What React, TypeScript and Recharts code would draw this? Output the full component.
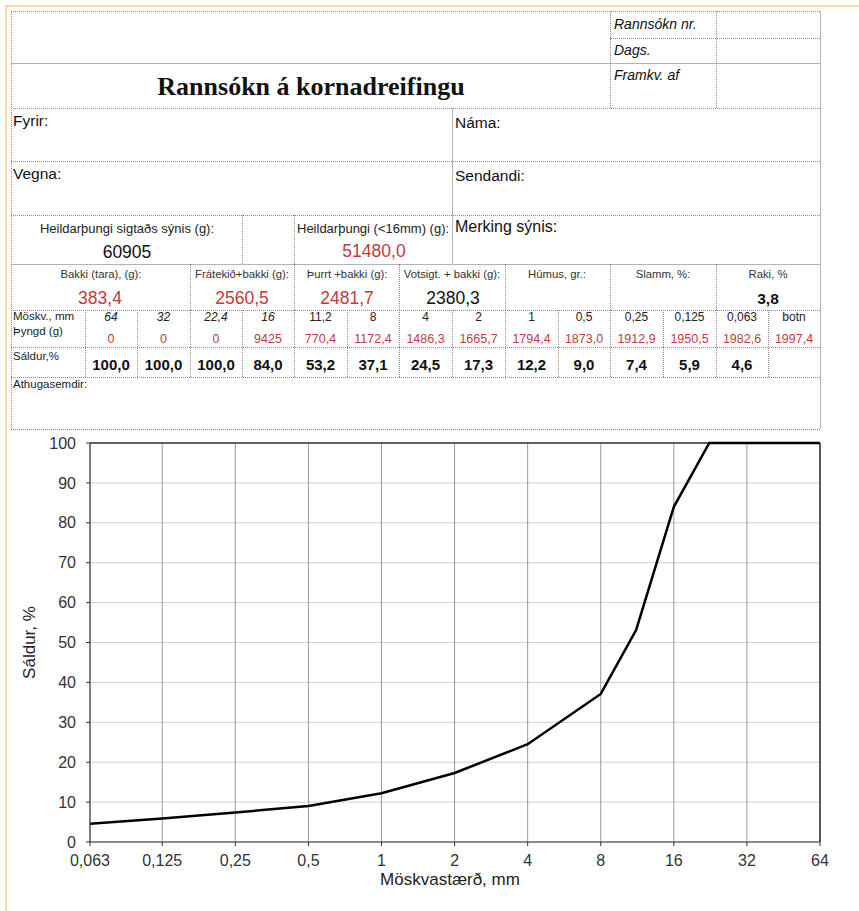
import React from "react";
import { CartesianGrid, Line, LineChart, ReferenceLine, XAxis, YAxis } from "recharts";

// sieve analysis (Sáldur, % passing each sieve)
const sieveSizes = [0.063, 0.125, 0.25, 0.5, 1, 2, 4, 8, 11.2, 16, 22.4, 32, 64];
const passingPct = [4.6, 5.9, 7.4, 9.0, 12.2, 17.3, 24.5, 37.1, 53.2, 84.0, 100, 100, 100];
const xTicks = [0.063, 0.125, 0.25, 0.5, 1, 2, 4, 8, 16, 32, 64];
const yTicks = [0, 10, 20, 30, 40, 50, 60, 70, 80, 90, 100];

// form table
const tableSizes = ["64", "32", "22,4", "16", "11,2", "8", "4", "2", "1", "0,5", "0,25", "0,125", "0,063", "botn"];
const tableWeights = ["0", "0", "0", "9425", "770,4", "1172,4", "1486,3", "1665,7", "1794,4", "1873,0", "1912,9", "1950,5", "1982,6", "1997,4"];
const italicSizes = ["64", "32", "22,4", "16"];

const SANS = '"Liberation Sans", Arial, Helvetica, sans-serif';
const SERIF = '"Liberation Serif", "Times New Roman", serif';
const RED = "#c23b3b";
const DOT = "#8a8a8a";
const SOLID = "#b4b4b4";

const colEdges = [85, 137, 190, 242, 294, 347, 399, 452, 505, 558, 610, 663, 716, 768, 820];

const chartData = sieveSizes.map((size, i) => ({ size, passing: passingPct[i] }));
const tablePassing = [...passingPct].reverse().map((v) => v.toFixed(1).replace(".", ","));

const fmt = (v: number) => String(v).replace(".", ",");

function H({ y, x1, x2, solid }: { y: number; x1: number; x2: number; solid?: boolean }) {
  return (
    <div
      style={{
        position: "absolute",
        left: x1,
        top: y,
        width: x2 - x1,
        height: 0,
        borderTop: solid ? `1px solid ${SOLID}` : `1px dotted ${DOT}`,
      }}
    />
  );
}

function V({ x, y1, y2, solid }: { x: number; y1: number; y2: number; solid?: boolean }) {
  return (
    <div
      style={{
        position: "absolute",
        left: x,
        top: y1,
        width: 0,
        height: y2 - y1,
        borderLeft: solid ? `1px solid ${SOLID}` : `1px dotted ${DOT}`,
      }}
    />
  );
}

// text placed by baseline; cx => centered, else left aligned at x
function T({
  x,
  cx,
  base,
  size,
  children,
  color = "#111",
  bold,
  italic,
  serif,
}: {
  x?: number;
  cx?: number;
  base: number;
  size: number;
  children: React.ReactNode;
  color?: string;
  bold?: boolean;
  italic?: boolean;
  serif?: boolean;
}) {
  const top = base - 0.85 * size;
  const pos = cx !== undefined ? { left: cx - 200, width: 400, textAlign: "center" as const } : { left: x };
  return (
    <div
      style={{
        position: "absolute",
        top,
        ...pos,
        fontSize: size,
        lineHeight: 1,
        whiteSpace: "nowrap",
        color,
        fontFamily: serif ? SERIF : SANS,
        fontWeight: bold ? 700 : 400,
        fontStyle: italic ? "italic" : "normal",
      }}
    >
      {children}
    </div>
  );
}

function FormTable() {
  const cells = tableSizes.map((s, i) => {
    const cx = (colEdges[i] + colEdges[i + 1]) / 2;
    return (
      <React.Fragment key={s}>
        <T cx={cx} base={321} size={12} italic={italicSizes.includes(s)} color="#222">
          {s}
        </T>
        <T cx={cx} base={344} size={12.5} color={RED}>
          {tableWeights[i]}
        </T>
        <T cx={cx} base={370} size={15} bold>
          {i < tablePassing.length ? tablePassing[i] : ""}
        </T>
      </React.Fragment>
    );
  });

  return (
    <>
      {/* grid lines */}
      <H y={11} x1={11} x2={820} />
      <H y={38} x1={610} x2={820} />
      <H y={63} x1={11} x2={820} solid />
      <H y={108} x1={11} x2={820} />
      <H y={161} x1={11} x2={820} />
      <H y={215} x1={11} x2={820} />
      <H y={264} x1={11} x2={820} solid />
      <H y={310} x1={11} x2={820} />
      <H y={347} x1={11} x2={820} />
      <H y={377} x1={11} x2={820} />
      <H y={429} x1={11} x2={820} />
      <V x={11} y1={11} y2={429} />
      <V x={820} y1={11} y2={429} solid />
      <V x={610} y1={11} y2={108} />
      <V x={716} y1={11} y2={108} />
      <V x={452} y1={108} y2={264} solid />
      <V x={242} y1={215} y2={264} />
      <V x={294} y1={215} y2={264} />
      {[190, 294, 399, 505, 610, 716].map((x) => (
        <V key={"r7" + x} x={x} y1={264} y2={310} />
      ))}
      {colEdges.slice(0, -1).map((x) => (
        <V key={"r8" + x} x={x} y1={310} y2={377} />
      ))}

      {/* header */}
      <T x={614} base={29} size={14} italic>Rannsókn nr.</T>
      <T x={614} base={55} size={14} italic>Dags.</T>
      <T x={614} base={80} size={14} italic>Framkv. af</T>
      <T cx={311} base={96} size={26} bold serif>Rannsókn á kornadreifingu</T>

      <T x={13} base={126} size={15.5}>Fyrir:</T>
      <T x={455} base={128} size={15.5}>Náma:</T>
      <T x={13} base={179} size={15.5}>Vegna:</T>
      <T x={455} base={181} size={15.5}>Sendandi:</T>

      <T cx={127} base={233} size={13} color="#222">Heildarþungi sigtaðs sýnis (g):</T>
      <T cx={127} base={259} size={17.5}>60905</T>
      <T x={297} base={233} size={13} color="#222">Heildarþungi (&lt;16mm) (g):</T>
      <T cx={374} base={258} size={17.5} color={RED}>51480,0</T>
      <T x={455} base={233} size={16}>Merking sýnis:</T>

      <T cx={101} base={279} size={11.3} color="#333">Bakki (tara), (g):</T>
      <T cx={100} base={305} size={17.5} color={RED}>383,4</T>
      <T cx={242} base={279} size={11.3} color="#333">Frátekið+bakki (g):</T>
      <T cx={242} base={305} size={17.5} color={RED}>2560,5</T>
      <T cx={347} base={279} size={11.3} color="#333">Þurrt +bakki (g):</T>
      <T cx={347} base={305} size={17.5} color={RED}>2481,7</T>
      <T cx={452} base={279} size={11.3} color="#333">Votsigt. + bakki (g):</T>
      <T cx={453} base={305} size={17.5}>2380,3</T>
      <T cx={557} base={279} size={11.3} color="#333">Húmus, gr.:</T>
      <T cx={663} base={279} size={11.3} color="#333">Slamm, %:</T>
      <T cx={768} base={279} size={11.3} color="#333">Raki, %</T>
      <T cx={768} base={304} size={15.5} bold>3,8</T>

      <T x={13} base={321} size={11.5} color="#222">Möskv., mm</T>
      <T x={13} base={336} size={11.5} color="#222">Þyngd (g)</T>
      <T x={13} base={361} size={11.5} color="#222">Sáldur,%</T>
      {cells}

      <T x={13} base={389} size={11.5} color="#222">Athugasemdir:</T>
    </>
  );
}

export default function App() {
  return (
    <div
      style={{
        position: "absolute",
        left: 0,
        top: 0,
        width: 859,
        height: 911,
        overflow: "hidden",
        background: "#fff",
      }}
    >
      <div
        style={{
          position: "absolute",
          left: 5,
          top: 5,
          width: 854,
          height: 906,
          boxSizing: "border-box",
          borderTop: "2px solid #f9dca4",
          borderLeft: "2px solid #f9dca4",
        }}
      />
      <FormTable />
      <div style={{ position: "absolute", left: 0, top: 430 }}>
        <LineChart
          width={859}
          height={481}
          data={chartData}
          margin={{ top: 13, right: 39, bottom: 19, left: 0 }}
        >
          <CartesianGrid vertical={false} stroke="#cfcfcf" />
          <CartesianGrid horizontal={false} stroke="#999" />
          <XAxis
            dataKey="size"
            type="number"
            scale="log"
            domain={[0.063, 64]}
            ticks={xTicks}
            interval={0}
            tickFormatter={fmt}
            height={50}
            tickSize={4}
            tickMargin={9}
            stroke="#333"
            tick={{ fill: "#333", fontSize: 16, fontFamily: SANS }}
            label={{
              value: "Möskvastærð, mm",
              position: "insideBottom",
              offset: 7,
              dx: -5,
              fill: "#222",
              fontSize: 17,
              fontFamily: SANS,
            }}
          />
          <YAxis
            type="number"
            domain={[0, 100]}
            ticks={yTicks}
            interval={0}
            width={90}
            tickSize={4}
            tickMargin={10}
            stroke="#333"
            tick={{ fill: "#333", fontSize: 16, fontFamily: SANS }}
            label={{
              value: "Sáldur, %",
              angle: -90,
              position: "insideLeft",
              offset: 33,
              dx: -4,
              fill: "#222",
              fontSize: 17,
              fontFamily: SANS,
              style: { textAnchor: "middle" },
            }}
          />
          <ReferenceLine y={100} stroke="#333" strokeWidth={1.5} />
          <ReferenceLine x={64} stroke="#333" strokeWidth={1.5} />
          <Line
            type="linear"
            dataKey="passing"
            stroke="#000"
            strokeWidth={2.5}
            dot={false}
            isAnimationActive={false}
          />
        </LineChart>
      </div>
    </div>
  );
}
